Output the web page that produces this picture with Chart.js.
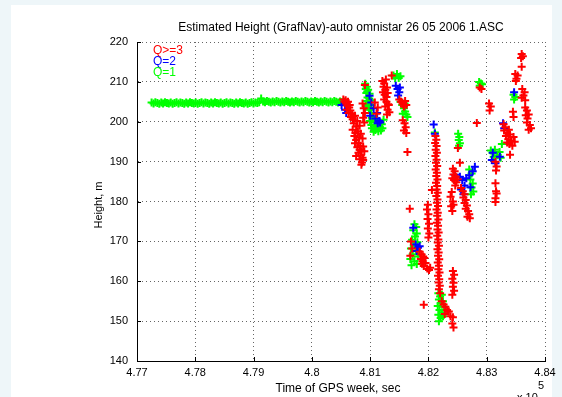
<!DOCTYPE html>
<html>
<head>
<meta charset="utf-8">
<script src="https://cdn.jsdelivr.net/npm/chart.js@4/dist/chart.umd.min.js"></script>
<style>
  html, body { margin: 0; padding: 0; background: #eef6f9; }
  canvas { display: block; }
</style>
</head>
<body>
<canvas id="heightChart" width="562" height="397"></canvas>
<script>
// GPS time of week (s) and estimated height (m), split by solution quality
const qHigh = [
  [480560,205.0],[480590,204.6],[480610,204.0],[480640,203.6],[480600,203.0],[480660,202.8],[480630,202.2],[480690,202.0],[480670,201.2],[480710,201.4],[480700,200.6],
  [480540,205.6],[480580,205.4],[480620,205.0],[480650,204.2],
  [480720,199.6],[480760,198.8],[480700,198.0],[480750,197.2],[480790,197.6],[480730,196.4],[480810,196.0],[480760,195.4],[480800,194.6],[480830,194.0],[480780,193.6],[480820,193.0],[480850,192.6],[480800,192.2],[480840,191.6],[480870,191.0],[480820,190.6],[480860,189.8],[480880,190.4],[480850,189.2],
  [480740,201.5],[480780,200.2],[480820,199.0],[480840,197.0],[480870,195.8],[480880,193.8],[480900,192.6],[480760,191.4],[480740,194.6],
  [480870,204.6],[480890,203.4],[480910,202.2],[480880,201.0],[480900,199.8],[480910,209.2],
  [481210,210.2],[481240,209.6],[481270,210.6],[481230,208.8],[481260,208.0],[481290,208.6],[481220,207.4],[481250,206.8],[481280,206.2],[481300,207.2],[481240,205.6],[481280,205.0],[481310,204.4],[481260,203.8],[481300,203.0],[481330,202.4],[481290,201.8],[481320,204.2],[481370,211.6],
  [481080,204.8],[481130,203.6],[481110,202.0],
  [481500,205.6],[481530,205.0],[481560,204.4],[481600,205.2],[481580,203.8],[481620,204.2],
  [481560,200.4],[481590,199.6],[481610,198.6],[481580,197.8],[481620,197.2],[481640,192.4],
  [482120,196.4],[482135,195.5],[482115,194.7],[482140,193.9],[482125,193.0],[482145,192.2],[482120,191.4],[482140,190.5],[482130,189.7],[482150,188.9],
  [482125,188.0],[482145,187.2],[482135,186.4],[482155,185.5],[482130,184.7],[482150,183.9],[482140,183.0],[482160,182.2],[482135,181.4],[482155,180.5],
  [482145,179.7],[482165,178.9],[482140,178.0],[482160,177.2],[482150,176.4],[482170,175.5],[482145,174.7],[482165,173.9],[482155,173.0],[482175,172.2],
  [482150,171.4],[482170,170.5],[482160,169.7],[482180,168.9],[482155,168.0],[482175,167.2],[482165,166.4],[482185,165.5],[482160,164.7],[482180,163.9],
  [482170,163.0],[482190,162.2],[482165,161.4],[482185,160.5],[482175,159.7],[482195,158.9],[482180,158.0],[482200,157.0],
  [482060,182.9],[481990,179.2],[481975,178.0],[482000,176.8],[481985,175.6],[482010,174.4],[481990,173.2],[482015,172.0],[482000,171.0],[481680,178.2],
  [481850,167.4],[481880,166.8],[481910,166.2],[481870,165.6],[481900,165.0],[481930,165.8],[481890,164.4],[481920,163.8],[481950,164.6],[481980,163.2],[482010,162.8],[482030,163.4],[481700,170.0],[481720,168.2],[481690,166.4],
  [481920,154.1],
  [482230,155.0],[482260,154.2],[482290,153.6],[482320,152.8],[482350,152.4],[482280,151.8],[482380,151.2],
  [482420,162.6],[482440,161.6],[482410,160.6],[482430,159.6],[482420,158.6],[482440,157.6],[482410,156.6],[482420,151.0],[482410,149.4],[482430,148.4],
  [482505,193.4],[482540,189.7],
  [482420,188.2],[482450,187.6],[482430,186.8],[482470,186.2],[482440,185.4],[482480,184.8],[482460,184.0],[482500,185.6],[482410,185.8],
  [482400,182.4],[482380,181.2],[482420,180.0],[482390,178.8],[482410,177.6],[482430,179.2],
  [482560,183.4],[482590,182.6],[482620,181.8],[482600,181.0],[482640,180.4],[482620,179.6],[482660,179.0],[482640,178.2],[482680,177.6],[482700,176.8],[482670,176.2],[482710,175.8],
  [482830,199.7],[482880,208.6],[482910,208.2],
  [483040,204.6],[483070,203.8],[483050,202.8],
  [483150,190.0],[483170,188.8],[483160,187.8],[483150,184.6],[483160,182.6],[483150,180.8],[483170,182.0],[483150,179.9],
  [483290,199.4],[483320,198.6],[483300,197.8],[483350,197.2],[483380,198.0],[483330,196.4],[483400,196.8],[483370,195.6],[483420,195.2],[483390,194.4],[483440,194.0],[483460,196.2],[483480,195.0],[483350,194.8],
  [483400,191.7],[483450,202.5],[483460,201.2],
  [483490,212.0],[483510,210.8],[483530,211.6],[483500,210.2],[483600,217.0],[483620,216.4],[483590,216.0],[483600,213.8],
  [483610,208.2],[483650,207.4],[483630,206.6],[483600,206.0],[483660,205.4],
  [483660,203.6],[483690,202.8],[483670,201.6],[483700,200.8],[483720,201.8],[483690,199.8],[483740,199.2],[483760,198.4],[483720,198.0]
];

const qTwo = [
  [480510,204.2],[480570,203.0],[480590,202.2],
  [480990,206.5],[481020,204.8],[481060,203.4],[481000,201.5],[481090,200.8],[481130,199.6],[481160,200.2],[481120,202.2],[481170,199.8],
  [481440,209.0],[481470,208.2],[481500,207.4],[481480,206.6],[481510,208.6],
  [482090,199.3],[482110,197.0],
  [481740,173.4],[481780,169.2],[481820,168.4],[481800,167.6],[481850,168.8],
  [482454,186.7],[482540,186.2],[482580,185.4],[482620,184.0],[482560,183.0],[482650,185.8],[482700,186.6],[482760,187.6],[482720,183.6],[482600,181.8],[482797,188.7],
  [483105,192.2],[483088,190.4],[483225,191.2],[483150,189.6],
  [483280,199.6],[483300,198.4],[483470,207.4]
];

const qOne = [
  [477250,204.8],[477284,204.6],[477315,204.9],[477349,204.7],[477382,204.5],[477416,204.8],[477447,204.6],[477480,204.9],[477514,204.7],[477546,204.6],
  [477579,204.8],[477612,204.5],[477645,204.7],[477678,204.9],[477711,204.6],[477744,204.8],[477777,204.7],[477810,204.5],[477843,204.8],[477876,204.6],
  [477909,204.9],[477942,204.7],[477975,204.6],[478008,204.8],[478041,204.5],[478074,204.7],[478107,204.9],[478140,204.6],[478173,204.8],[478206,204.7],
  [478239,204.5],[478272,204.8],[478305,204.6],[478338,204.9],[478371,204.7],[478404,204.6],[478437,204.8],[478470,204.5],[478503,204.7],[478536,204.9],
  [478569,204.6],[478602,204.8],[478635,204.7],[478668,204.5],[478701,204.8],[478734,204.6],[478767,204.9],[478800,204.7],[478833,204.6],[478866,204.8],
  [478899,204.5],[478932,204.7],[478965,204.9],[478998,204.6],[479031,204.8],[479064,204.7],[479097,204.9],[479130,205.8],[479163,205.1],[479196,204.9],
  [479229,205.2],[479262,205.0],[479295,204.8],[479328,205.1],[479361,204.9],[479394,205.2],[479427,205.0],[479460,204.8],[479493,205.1],[479526,204.9],
  [479559,205.2],[479592,205.0],[479625,204.8],[479658,205.1],[479691,204.9],[479724,205.2],[479757,205.0],[479790,204.8],[479823,205.1],[479856,204.9],
  [479889,205.2],[479922,205.0],[479955,204.8],[479988,205.1],[480021,204.9],[480054,205.2],[480087,205.0],[480120,204.8],[480153,205.1],[480186,204.9],
  [480219,205.2],[480252,205.0],[480285,204.8],[480318,205.1],[480351,204.9],[480384,205.2],[480417,205.0],[480450,204.8],[480483,205.1],[480516,204.9],
  [480549,205.0],
  [480915,209.5],[480940,208.8],[480965,208.0],[480935,207.2],[480990,207.0],[480955,206.1],[481010,205.4],[480975,204.8],[480930,204.2],[481020,203.5],
  [480925,208.2],[480950,207.6],[480985,205.8],[480945,205.2],[480960,203.8],[481000,204.2],
  [480980,203.0],[481010,202.2],[481050,201.4],[481040,200.6],[481080,199.8],[481020,199.2],[481110,198.8],[481070,198.2],[481140,197.6],[481170,198.6],[481200,199.4],[481230,200.5],[481100,200.9],[481060,197.5],
  [480995,200.2],[481030,198.4],[481090,197.9],[481120,199.9],[481150,199.0],[481185,197.8],[481210,198.4],[481030,201.0],
  [481400,211.6],[481430,210.9],[481460,212.0],[481490,211.0],[481520,211.4],
  [481520,205.0],[481550,204.2],[481580,203.4],[481600,202.6],[481620,201.8],[481560,202.0],[481640,201.2],[481590,204.6],
  [481760,174.3],[481790,173.6],[481740,172.8],[481800,172.0],[481770,171.2],[481720,170.4],[481810,169.8],[481750,169.0],[481700,168.2],[481790,167.5],[481730,166.8],[481820,166.2],[481690,165.6],[481760,165.0],[481800,164.3],[481710,164.0],
  [482170,157.0],[482200,156.2],[482230,156.6],[482180,155.4],[482250,155.0],[482210,154.4],[482160,153.8],[482270,153.6],[482190,152.8],[482230,152.2],[482170,151.6],[482210,150.8],[482180,150.0],[482250,151.2],
  [482110,197.3],
  [482510,197.0],[482530,196.2],[482520,195.4],[482540,194.6],[482525,194.0],
  [482700,188.0],[482740,187.0],[482720,185.5],[482760,184.5],[482740,183.5],[482770,182.5],[482730,181.8],
  [482870,210.0],[482900,209.6],[482880,209.0],[482920,209.4],
  [483070,192.8],[483100,192.2],[483140,193.0],[483180,191.6],[483220,192.4],[483260,194.4],[483240,191.0],[483120,191.2],
  [483460,206.8],[483490,206.2],[483470,205.6]
];

const seriesLabels = ['Q>=3', 'Q=2', 'Q=1'];
const seriesColors = ['#ff0000', '#0000ff', '#00ff00'];
const xTicks = [477000, 478000, 479000, 480000, 481000, 482000, 483000, 484000];
const yTicks = [140, 150, 160, 170, 180, 190, 200, 210, 220];

Chart.defaults.font.family = '"Liberation Sans", Arial, sans-serif';
Chart.defaults.color = '#000';

function toPoints(rows) {
  return rows.map(r => ({ x: r[0], y: r[1] }));
}

// figure background, titles, text legend and inward tick marks
const figureDecor = {
  id: 'figureDecor',
  beforeDraw(chart) {
    const c = chart.ctx;
    c.save();
    c.fillStyle = '#eef6f9';
    c.fillRect(0, 0, chart.width, chart.height);
    c.fillStyle = '#ffffff';
    c.fillRect(11, 5, 541, 392);
    c.restore();
  },
  afterDraw(chart) {
    const c = chart.ctx;
    const area = chart.chartArea;
    const xs = chart.scales.x, ys = chart.scales.y;
    c.save();
    c.strokeStyle = '#000';
    c.lineWidth = 1;
    c.beginPath();
    xTicks.forEach(v => {
      const p = Math.round(xs.getPixelForValue(v)) + 0.5;
      c.moveTo(p, area.bottom);
      c.lineTo(p, area.bottom - 4);
    });
    yTicks.forEach(v => {
      const p = Math.round(ys.getPixelForValue(v)) + 0.5;
      c.moveTo(area.left, p);
      c.lineTo(area.left + 4, p);
    });
    c.stroke();

    c.fillStyle = '#000';
    c.textAlign = 'center';
    c.textBaseline = 'middle';
    c.font = '12px "Liberation Sans", Arial, sans-serif';
    c.fillText('Estimated Height (GrafNav)-auto omnistar 26 05 2006 1.ASC', (area.left + area.right) / 2, 28);
    c.fillText('Time of GPS week, sec', 338, 389);

    c.save();
    c.translate(99, 205);
    c.rotate(-Math.PI / 2);
    c.font = '11px "Liberation Sans", Arial, sans-serif';
    c.fillText('Height, m', 0, 0);
    c.restore();

    c.textAlign = 'left';
    c.textBaseline = 'alphabetic';
    c.font = '11px "Liberation Sans", Arial, sans-serif';
    c.fillText('x 10', 517, 401);
    c.fillText('5', 538, 389);

    c.textBaseline = 'middle';
    c.font = '12px "Liberation Sans", Arial, sans-serif';
    seriesLabels.forEach((t, i) => {
      c.fillStyle = seriesColors[i];
      c.fillText(t, area.left + 16, 51 + i * 11);
    });
    c.restore();
  }
};

const pointStyleOf = color => ({
  pointStyle: 'cross',
  pointRadius: 4,
  pointHoverRadius: 4,
  borderWidth: 2,
  borderColor: color,
  backgroundColor: color,
  showLine: false
});

new Chart(document.getElementById('heightChart'), {
  type: 'scatter',
  data: {
    datasets: [
      Object.assign({ label: seriesLabels[0], data: toPoints(qHigh) }, pointStyleOf(seriesColors[0])),
      Object.assign({ label: seriesLabels[1], data: toPoints(qTwo) }, pointStyleOf(seriesColors[1])),
      Object.assign({ label: seriesLabels[2], data: toPoints(qOne) }, pointStyleOf(seriesColors[2]))
    ]
  },
  options: {
    responsive: false,
    animation: false,
    devicePixelRatio: 1,
    layout: { padding: { top: 42, right: 17, left: 0, bottom: 0 } },
    plugins: {
      legend: { display: false },
      tooltip: { enabled: false },
      title: { display: false }
    },
    scales: {
      x: {
        type: 'linear',
        min: 477000,
        max: 484000,
        afterBuildTicks: s => { s.ticks = xTicks.map(v => ({ value: v })); },
        afterFit: s => { s.height = 36; },
        ticks: {
          padding: 5,
          maxRotation: 0,
          font: { size: 11 },
          color: '#000',
          callback: v => String(parseFloat((v / 1e5).toFixed(2)))
        },
        grid: { color: 'rgba(0,0,0,0.6)', lineWidth: 1, drawTicks: false },
        border: { color: '#000', width: 1, dash: [1, 3] }
      },
      y: {
        type: 'linear',
        min: 140,
        max: 220,
        afterBuildTicks: s => { s.ticks = yTicks.map(v => ({ value: v })); },
        afterFit: s => { s.width = 137; },
        ticks: {
          padding: 9,
          font: { size: 11 },
          color: '#000'
        },
        grid: { color: 'rgba(0,0,0,0.6)', lineWidth: 1, drawTicks: false },
        border: { color: '#000', width: 1, dash: [1, 3] }
      }
    }
  },
  plugins: [figureDecor]
});
</script>
</body>
</html>
